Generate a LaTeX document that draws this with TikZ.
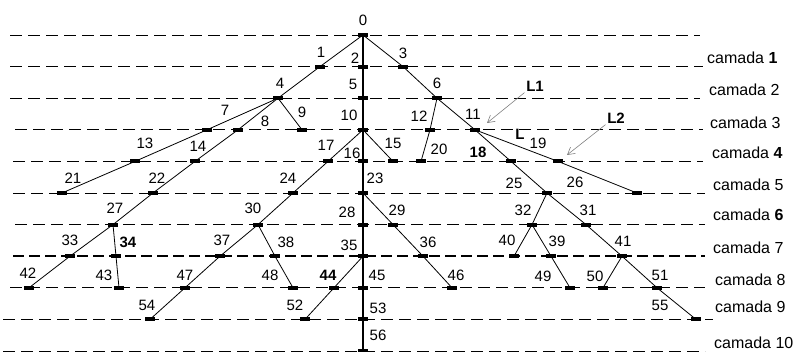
\documentclass[tikz,border=0pt]{standalone}
\usepackage{fontspec}
\setmainfont{Liberation Sans}
\usetikzlibrary{arrows.meta}
\tikzset{
  layer line/.style={line width=0.9pt,dash pattern=on 12pt off 6pt},
  layer line thick/.style={line width=2pt,dash pattern=on 11pt off 5pt},
  tree vertex/.style={rectangle,fill=black,minimum width=10pt,
    minimum height=4pt,inner sep=0pt},
  tree edge/.style={line width=0.8pt},
  tree axis/.style={line width=1.6pt},
  tree label/.style={inner sep=0pt,font=\fontsize{15}{17}\selectfont},
  layer label/.style={anchor=west,inner sep=0pt,
    font=\fontsize{16}{18}\selectfont},
  pointer label/.style={inner sep=0pt,font=\fontsize{15}{17}\selectfont\bfseries},
  pointer edge/.style={-{Straight Barb[length=7pt,width=8pt]},gray,
    line width=0.6pt,shorten <=2pt}
}
\begin{document}
\begin{tikzpicture}[x=1pt,y=-1pt]
  \useasboundingbox (0,0) rectangle (796,352);
  % layers
  \foreach \k/\xa/\xb in {0/10/700,1/10/703,2/10/700,3/15/703,4/13/703,
      5/13/705,6/15/705,8/10/705,9/3/713,10/3/705}
    \draw[layer line] (\xa,{35+31.6*\k}) -- (\xb,{35+31.6*\k});
  \draw[layer line thick] (13,256.2) -- (705,256.2);
  \foreach \k/\x/\y/\t in {1/707/58/\textbf{1},2/709/90/2,3/710/123/3,
      4/712/153/\textbf{4},5/713/185/5,6/713/215/\textbf{6},7/713/248/7,
      8/715/280/8,9/715/307/9,10/714/343/10}
    \node[layer label] (camada\k) at (\x,\y) {camada \t};
  % vertices
  \foreach \n/\x/\k in {0/363/0,1/320/1,2/363/1,3/403/1,4/278/2,5/363/2,
      6/437/2,7/207/3,8/238/3,9/302/3,10/363/3,11/475/3,12/430/3,
      13/135/4,14/195/4,15/393/4,16/363/4,17/328/4,18/511/4,19/558/4,
      20/421/4,21/62/5,22/153/5,23/363/5,24/293/5,25/547/5,26/637/5,
      27/113/6,28/363/6,29/393/6,30/258/6,31/586/6,32/532/6,
      33/70/7,34/116/7,35/363/7,36/423/7,37/220/7,38/275/7,39/551/7,
      40/514/7,41/622/7,42/29/8,43/119/8,44/334/8,45/363/8,46/452/8,
      47/185/8,48/293/8,49/570/8,50/603/8,51/657/8,52/305/9,53/363/9,
      54/150/9,55/696/9,56/363/10}
    \node[tree vertex] (n\n) at (\x,{35+31.6*\k}) {};
  \foreach \n/\x/\y in {0/363/20,1/321/52,2/355/58,3/403/53,4/280/83,
      5/353/84,6/437/83,7/225/110,8/265/121,9/302/112,10/349/115,
      11/473/114,12/419/116,13/145/143,14/198/146,15/393/143,16/352/153,
      17/326/145,19/538/143,20/439/149,21/73/178,22/157/178,23/375/178,
      24/288/178,25/514/183,26/575/182,27/115/208,28/347/212,29/397/210,
      30/253/208,31/588/210,32/523/210,33/70/240,35/349/245,36/428/242,
      37/222/240,38/286/242,39/557/241,40/507/240,41/623/241,42/28/273,
      43/104/275,45/377/275,46/456/275,47/185/275,48/270/275,49/543/276,
      50/595/276,51/660/275,52/295/305,53/378/308,54/147/305,55/660/305,
      56/378/335}
    \node[tree label] (l\n) at (\x,\y) {\n};
  \foreach \n/\x/\y in {18/478/152,34/128/242,44/328/275}
    \node[tree label,font=\fontsize{15}{17}\selectfont\bfseries]
      (l\n) at (\x,\y) {\n};
  % edges
  \draw[tree axis] (n0.center) -- (n2.center) -- (n5.center) -- (n10.center)
    -- (n16.center) -- (n23.center) -- (n28.center) -- (n35.center)
    -- (n45.center) -- (n53.center) -- (n56.center);
  \draw[tree edge] (n0.center) -- (n1.center) -- (n4.center);
  \draw[tree edge] (n4.center) -- (n7.center) -- (n13.center) -- (n21.center);
  \draw[tree edge] (n4.center) -- (n8.center) -- (n14.center) -- (n22.center)
    -- (n27.center) -- (n33.center) -- (n42.center);
  \draw[tree edge] (n4.center) -- (n9.center);
  \draw[tree edge] (n27.center) -- (n34.center) -- (n43.center);
  \draw[tree edge] (n10.center) -- (n17.center) -- (n24.center) -- (n30.center)
    -- (n37.center) -- (n47.center) -- (n54.center);
  \draw[tree edge] (n30.center) -- (n38.center) -- (n48.center);
  \draw[tree edge] (n10.center) -- (n15.center);
  \draw[tree edge] (n23.center) -- (n29.center) -- (n36.center) -- (n46.center);
  \draw[tree edge] (n35.center) -- (n44.center) -- (n52.center);
  \draw[tree edge] (n0.center) -- (n3.center) -- (n6.center);
  \draw[tree edge] (n6.center) -- (n12.center) -- (n20.center);
  \draw[tree edge] (n6.center) -- (n11.center) -- (n18.center) -- (n25.center)
    -- (n31.center) -- (n41.center) -- (n51.center) -- (n55.center);
  \draw[tree edge] (n11.center) -- (n19.center) -- (n26.center);
  \draw[tree edge] (n25.center) -- (n32.center) -- (n40.center);
  \draw[tree edge] (n32.center) -- (n39.center) -- (n49.center);
  \draw[tree edge] (n41.center) -- (n50.center);
  % pointers
  \node[pointer label] (L1) at (535,86) {L1};
  \node[pointer label] (L2) at (616,118) {L2};
  \node[pointer label] (L) at (520,134) {L};
  \coordinate (aim11) at (487,123);
  \coordinate (aim19) at (567,155);
  \draw[pointer edge] (L1.south west) -- (aim11);
  \draw[pointer edge] (L2.south west) -- (aim19);
\end{tikzpicture}
\end{document}
